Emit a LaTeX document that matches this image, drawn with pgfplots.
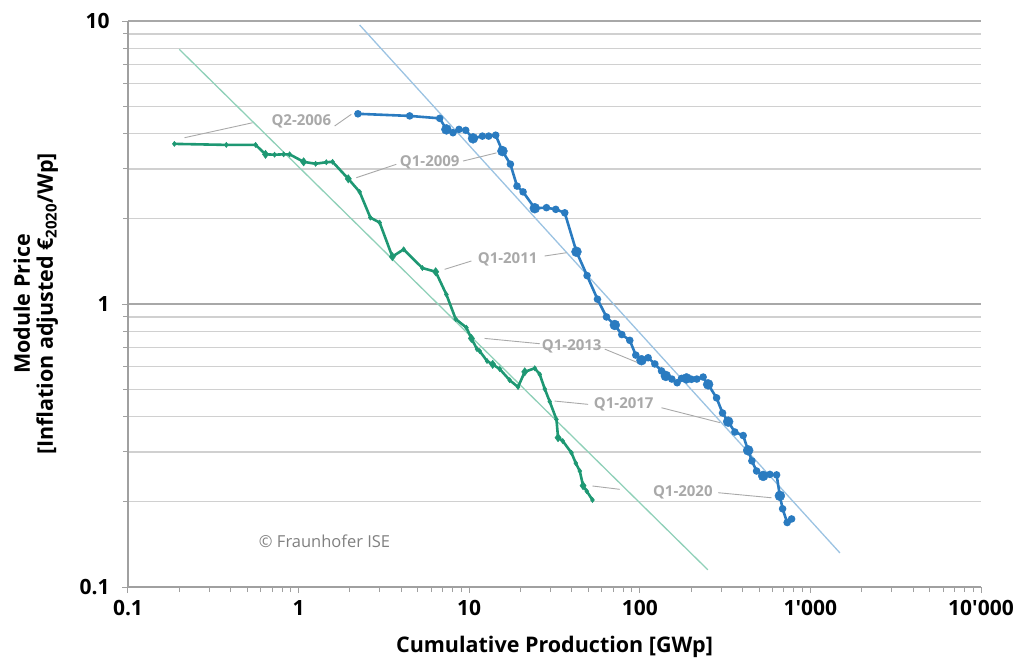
\documentclass[border=0pt]{standalone}
\usepackage{fontspec}
\setmainfont{Open Sans}
\usepackage{pgfplots}
\pgfplotsset{compat=1.18}

\definecolor{pvblue}{HTML}{2A7BC0}
\definecolor{pvgreen}{HTML}{1E9873}
\definecolor{trendblue}{HTML}{9CC3E2}
\definecolor{trendgreen}{HTML}{8FD0B8}
\definecolor{gridminor}{HTML}{D0D0D0}
\definecolor{gridmajor}{HTML}{A8A8A8}
\definecolor{axisgray}{HTML}{A0A0A0}
\definecolor{notegray}{HTML}{A9A9A9}

\begin{document}
\begin{tikzpicture}
\begin{axis}[
  xmode=log, ymode=log,
  scale only axis,
  width=853pt, height=566pt,
  xmin=0.1, xmax=10000,
  ymin=0.1, ymax=10,
  axis lines*=left,
  axis line style={axisgray, line width=1.2pt},
  tick align=outside,
  major tick length=6pt, minor tick length=5pt,
  tick style={axisgray, line width=1pt},
  xtick={0.1,1,10,100,1000,10000},
  xticklabels={0.1,1,10,100,1\textquotesingle000,10\textquotesingle000},
  ytick={0.1,1,10},
  yticklabels={0.1,1,10},
  ticklabel style={font=\bfseries\fontsize{21}{21}\selectfont, text=black},
  xticklabel style={yshift=-4pt},
  yticklabel style={xshift=-9pt},
  ymajorgrids, yminorgrids,
  major grid style={gridmajor, line width=1.2pt},
  minor grid style={gridminor, line width=1.3pt},
  xlabel={Cumulative Production [GWp]},
  xlabel style={font=\bfseries\fontsize{21.5}{21.5}\selectfont, at={(axis description cs:0.5,0)}, anchor=north, yshift=-46pt},
  ylabel={Module Price\\{}{[Inflation adjusted €\textsubscript{2020}/Wp]}},
  ylabel style={font=\bfseries\fontsize{21.5}{23}\selectfont, align=center, at={(axis description cs:-0.108,0.5)}, anchor=center},
  clip=false,
]

% experience-curve trend lines
\addplot[trendgreen, line width=1.3pt] coordinates {(0.2,7.94) (250.6,0.115)};
\addplot[trendblue, line width=1.3pt] coordinates {(2.28,9.68) (1489,0.132)};

% leader lines for the quarter labels
\begin{scope}[notegray, line width=0.9pt]
\draw (axis cs:0.2145,3.87) -- (axis cs:0.537,4.37);
\draw (axis cs:1.626,4.256) -- (axis cs:2.037,4.68);
\draw (axis cs:2.18,2.795) -- (axis cs:3.74,3.116);
\draw (axis cs:9.20,3.20) -- (axis cs:14.44,3.42);
\draw (axis cs:7.18,1.326) -- (axis cs:10.3,1.419);
\draw (axis cs:27.7,1.478) -- (axis cs:37.2,1.518);
\draw (axis cs:12.3,0.756) -- (axis cs:25.9,0.724);
\draw (axis cs:62.3,0.693) -- (axis cs:97.7,0.620);
\draw (axis cs:31.7,0.454) -- (axis cs:49.8,0.442);
\draw (axis cs:134,0.430) -- (axis cs:294.6,0.381);
\draw (axis cs:52.8,0.2275) -- (axis cs:76.3,0.2214);
\draw (axis cs:287.9,0.2154) -- (axis cs:592,0.2067);
\end{scope}
\begin{scope}[every node/.style={text=notegray, font=\bfseries\fontsize{15}{15}\selectfont, inner sep=1pt}]
\node at (axis cs:1.037,4.43) {Q2-2006};
\node at (axis cs:5.87,3.16) {Q1-2009};
\node at (axis cs:16.8,1.439) {Q1-2011};
\node at (axis cs:39.9,0.710) {Q1-2013};
\node at (axis cs:80.5,0.442) {Q1-2017};
\node at (axis cs:178.7,0.2154) {Q1-2020};
\end{scope}
\node[text=gray, font=\fontsize{16.5}{16.5}\selectfont] at (axis cs:1.42,0.1446) {© Fraunhofer ISE};

% crystalline silicon modules (green)
\addplot[pvgreen, line width=2.6pt, mark=diamond*, mark size=2.6pt, mark options={fill=pvgreen, draw=pvgreen, line width=0.5pt}] coordinates {
(0.187,3.68) (0.377,3.65) (0.560,3.65) (0.640,3.38) (0.723,3.37) (0.817,3.38)
(0.886,3.38) (1.070,3.18) (1.258,3.13) (1.454,3.17) (1.582,3.18) (1.956,2.77)
(2.279,2.49) (2.634,2.02) (2.987,1.94) (3.545,1.47) (4.128,1.56) (5.316,1.34)
(6.362,1.30) (7.352,1.08) (8.333,0.885) (9.630,0.825) (10.30,0.756) (11.11,0.693)
(11.52,0.682) (12.72,0.629) (13.73,0.612) (15.10,0.589) (17.28,0.538) (19.33,0.509)
(21.16,0.576) (24.23,0.593) (25.92,0.564) (27.73,0.501) (29.66,0.452) (32.47,0.391)
(33.18,0.337) (35.35,0.328) (39.77,0.298) (42.14,0.274) (44.48,0.257) (46.51,0.228)
(48.88,0.218) (52.80,0.203)
};
\addplot[only marks, mark=diamond*, mark size=4.2pt, mark options={fill=pvgreen, draw=pvgreen}] coordinates {
(0.640,3.38) (1.070,3.18) (1.956,2.77) (3.545,1.47) (6.362,1.30) (10.30,0.756)
(13.73,0.612) (21.16,0.576) (33.18,0.337) (46.51,0.228)
};

% module prices (blue)
\addplot[pvblue, line width=2.6pt, mark=*, mark size=2.4pt, mark options={fill=pvblue, draw=pvblue}] coordinates {
(2.227,4.70) (4.478,4.62) (6.714,4.53) (7.352,4.14) (8.035,4.03) (8.713,4.14)
(9.539,4.11) (10.53,3.85) (11.95,3.92) (13.01,3.92) (14.30,3.95) (15.66,3.47)
(17.44,3.12) (19.07,2.61) (20.69,2.49) (24.23,2.18) (28.37,2.19) (32.17,2.16)
(36.32,2.10) (42.54,1.53) (49.08,1.26) (56.48,1.04) (63.77,0.900) (71.36,0.843)
(78.43,0.780) (87.36,0.744) (94.73,0.660) (102.3,0.633) (111.9,0.646) (122.5,0.614)
(134.1,0.580) (142.1,0.557) (154.1,0.543) (165.5,0.527) (175.6,0.546) (187.9,0.546)
(201.0,0.542) (215.9,0.543) (235.1,0.552) (251.5,0.520) (281.8,0.466) (305.5,0.412)
(329.6,0.384) (360.7,0.353) (403.6,0.343) (431.8,0.304) (453.9,0.279) (483.6,0.257)
(528.6,0.247) (578.8,0.250) (633.6,0.249) (662.4,0.210) (687.1,0.189) (731.1,0.169)
(775.8,0.174)
};
\addplot[only marks, mark=*, mark size=5pt, mark options={fill=pvblue, draw=pvblue}] coordinates {
(7.352,4.14) (10.53,3.85) (15.66,3.47) (24.23,2.18) (42.54,1.53) (71.36,0.843)
(102.3,0.633) (142.1,0.557) (187.9,0.546) (251.5,0.520) (329.6,0.384) (431.8,0.304)
(528.6,0.247) (662.4,0.210)
};
\end{axis}
\pgfresetboundingbox
\path[use as bounding box] ([xshift=-128pt,yshift=-70pt]current axis.south west) rectangle ++(1016pt,657pt);
\end{tikzpicture}
\end{document}
